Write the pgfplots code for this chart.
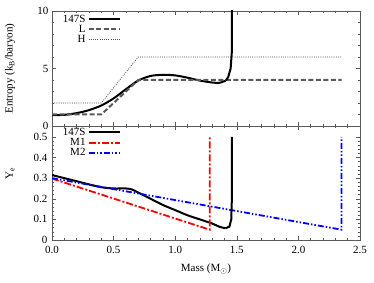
\documentclass[border=0pt]{standalone}
\usepackage{pgfplots}
\pgfplotsset{compat=1.18}
\usepackage{fontspec}
\setmainfont{Liberation Serif}
\begin{document}
\begin{tikzpicture}
\pgfplotsset{common/.style={
  width=308pt, scale only axis,
  xmin=0, xmax=2.5, xtick={0,0.5,1,1.5,2,2.5}, minor x tick num=4,
  tick align=inside, xtick pos=both, ytick pos=both,
  axis line style={black!65, line width=0.6pt}, every tick/.style={black!65, line width=0.5pt},
  major tick length=4pt, minor tick length=2pt,
  tick label style={font=\fontsize{11}{13}\selectfont},
  label style={font=\fontsize{11}{13}\selectfont},
  /pgf/number format/assume math mode=true,
  legend style={draw=none, fill=none, font=\fontsize{11}{12}\selectfont,
    anchor=north west, at={(0.025,0.995)}, row sep=-2.5pt, inner sep=1pt},
  legend cell align=right, legend plot pos=right,
  legend image code/.code={\draw[##1] (0pt,0pt) -- (31pt,0pt);},
}}
\path[use as bounding box] (-52pt,-43pt) rectangle (322pt,240pt);
% top panel
\begin{axis}[common, at={(0pt,114pt)}, anchor=south west, height=115pt,
  xticklabels={}, ymin=0, ymax=10, ytick={0,5,10}, minor y tick num=4,
  ylabel={Entropy (k$_{\mathrm{B}}$/baryon)},
  ylabel style={at={(axis description cs:-0.136,0.5)}, anchor=center}]
\addplot[black, line width=2pt, smooth] coordinates {
 (0,0.95) (0.1,0.97) (0.2,1.12) (0.3,1.38) (0.4,1.78) (0.5,2.4) (0.6,3.2)
 (0.7,3.95) (0.8,4.35) (0.9,4.45) (1.0,4.4) (1.1,4.2) (1.2,3.95) (1.3,3.78)
 (1.36,3.76) (1.41,3.95)};
\addlegendentry{147S}
\addplot[black!65, line width=2pt, dash pattern=on 5pt off 2.5pt] coordinates {
 (0,1.0) (0.4,1.0) (0.7,4.0) (2.35,4.0)};
\addlegendentry{L}
\addplot[black!70, line width=0.7pt, dash pattern=on 1pt off 1.2pt] coordinates {
 (0,2.0) (0.4,2.0) (0.7,6.0) (2.35,6.0)};
\addlegendentry{H}
\addplot[black, line width=2pt, forget plot] coordinates {
 (1.41,3.95) (1.43,4.25) (1.45,5.0) (1.46,6.5) (1.46,10.5)};
\end{axis}
% bottom panel
\begin{axis}[common, at={(0pt,0pt)}, anchor=south west, height=114pt,
  xticklabels={0.0,0.5,1.0,1.5,2.0,2.5},
  xticklabel style={yshift=-3pt},
  yticklabel style={xshift=-1pt},
  ymin=0, ymax=0.553, ytick={0,0.1,0.2,0.3,0.4,0.5}, minor y tick num=4,
  yticklabels={0,0.1,0.2,0.3,0.4,0.5},
  xlabel={Mass (M$_\odot$)},
  xlabel style={at={(axis description cs:0.5,-0.255)}, anchor=center},
  ylabel={Y$_{\mathrm{e}}$},
  ylabel style={at={(axis description cs:-0.136,0.58)}, anchor=center},
  legend style={at={(0.025,1.01)}}]
\addplot[black, line width=2pt, smooth] coordinates {
 (0,0.315) (0.1,0.30) (0.2,0.285) (0.3,0.27) (0.4,0.256) (0.5,0.25) (0.6,0.25)
 (0.65,0.245) (0.7,0.23) (0.8,0.20) (0.9,0.17) (1.0,0.145) (1.1,0.12)
 (1.2,0.10) (1.3,0.08) (1.36,0.064) (1.41,0.057)};
\addlegendentry{147S}
\addplot[red, line width=1.8pt, dash pattern=on 7pt off 2pt on 2pt off 2pt] coordinates {
 (0,0.298) (1.28,0.05) (1.28,0.50)};
\addlegendentry{M1}
\addplot[blue, line width=1.8pt, dash pattern=on 6pt off 2pt on 1.5pt off 2pt on 1.5pt off 2pt] coordinates {
 (0,0.30) (2.35,0.05) (2.35,0.50)};
\addlegendentry{M2}
\addplot[black, line width=2pt, forget plot] coordinates {
 (1.41,0.057) (1.44,0.065) (1.455,0.10) (1.46,0.2) (1.46,0.50)};
\end{axis}
\end{tikzpicture}
\end{document}
